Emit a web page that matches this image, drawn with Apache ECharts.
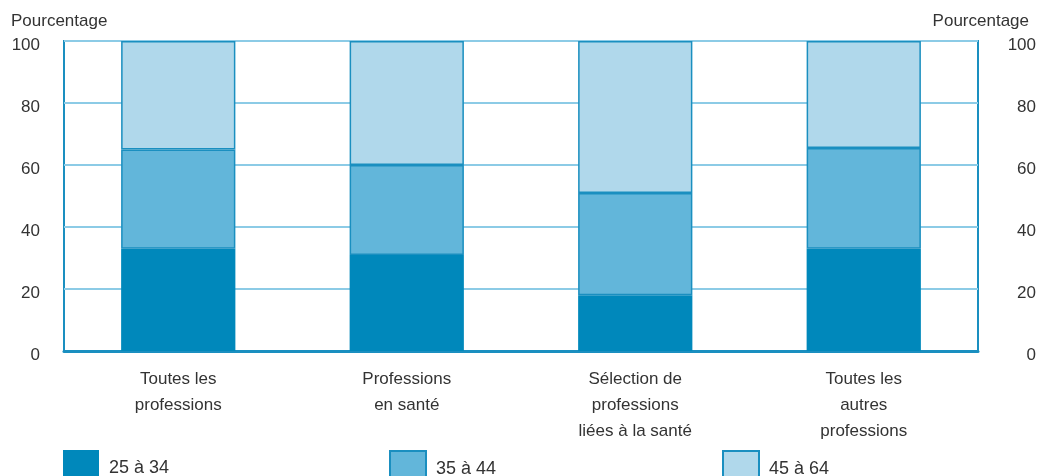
<!DOCTYPE html>
<html>
<head>
<meta charset="utf-8">
<script src="https://cdn.jsdelivr.net/npm/echarts@6/dist/echarts.min.js"></script>
<style>
  html, body { margin: 0; padding: 0; background: #fff; }
  #chart { width: 1039px; height: 476px; }
</style>
</head>
<body>
<div id="chart"></div>
<script>
// catégories (axe horizontal)
const categories = [
  'Toutes les\nprofessions',
  'Professions\nen santé',
  'Sélection de\nprofessions\nliées à la santé',
  'Toutes les\nautres\nprofessions'
];

// groupes d'âge, en pourcentage
const seriesNames = ['25 à 34', '35 à 44', '45 à 64'];
const age25to34 = [33, 31, 18, 33];
const age35to44 = [32, 29, 33, 32.5];
const age45to64 = [35, 40, 49, 34.5];

const yTicks = { min: 0, max: 100, interval: 20 };

const colors = ['#0088bb', '#62b6da', '#b0d8eb'];
const frameBlue = '#1a8fc0';
const gridBlue = '#8ccbe6';
const textColor = '#333';
const font = 'Liberation Sans';

const chart = echarts.init(document.getElementById('chart'));

function yAxisFor(position) {
  return {
    type: 'value',
    position: position,
    min: yTicks.min,
    max: yTicks.max,
    interval: yTicks.interval,
    axisLine: { show: false },
    axisTick: { show: false },
    splitLine: { show: position === 'left', lineStyle: { color: gridBlue, width: 2 } },
    axisLabel: {
      color: textColor,
      fontFamily: font,
      fontSize: 17,
      align: 'right',
      margin: position === 'left' ? 24 : 58,
      formatter: (v) => '{t|' + v + '}',
      rich: { t: { fontFamily: font, fontSize: 17, color: textColor, padding: [8, 0, 0, 0] } }
    }
  };
}

function legendAt(idx, left) {
  return {
    data: [seriesNames[idx]],
    icon: 'rect',
    left: left,
    top: 450,
    padding: 0,
    itemWidth: 36,
    itemHeight: 26,
    itemGap: 0,
    formatter: '{t|{name}}',
    textStyle: {
      color: textColor,
      fontFamily: font,
      fontSize: 18,
      rich: {
        t: { fontFamily: font, fontSize: 18, color: textColor, padding: [10, 0, 0, 5] }
      }
    }
  };
}

const ageData = [age25to34, age35to44, age45to64];

chart.setOption({
  animation: false,
  title: [
    { text: 'Pourcentage', left: 6, top: 8,
      textStyle: { color: textColor, fontFamily: font, fontSize: 17, fontWeight: 'normal' } },
    { text: 'Pourcentage', right: 5, top: 8,
      textStyle: { color: textColor, fontFamily: font, fontSize: 17, fontWeight: 'normal' } }
  ],
  legend: [legendAt(0, 63), legendAt(1, 389), legendAt(2, 722)],
  grid: {
    left: 64, right: 60, top: 41, bottom: 125,
    show: true,
    borderColor: frameBlue,
    borderWidth: 2,
    backgroundColor: 'transparent'
  },
  xAxis: {
    type: 'category',
    data: categories,
    axisLine: { show: true, lineStyle: { color: frameBlue, width: 3 } },
    axisTick: { show: false },
    axisLabel: {
      color: textColor,
      fontFamily: font,
      fontSize: 17,
      lineHeight: 26,
      margin: 15,
      interval: 0
    }
  },
  yAxis: [yAxisFor('left'), yAxisFor('right')],
  series: ageData.map((vals, i) => ({
    name: seriesNames[i],
    type: 'bar',
    stack: 'age',
    barWidth: '50%',
    data: vals,
    itemStyle: {
      color: colors[i],
      borderColor: i === 0 ? colors[i] : frameBlue,
      borderWidth: i === 0 ? 0 : 1.5
    }
  }))
});
</script>
</body>
</html>
